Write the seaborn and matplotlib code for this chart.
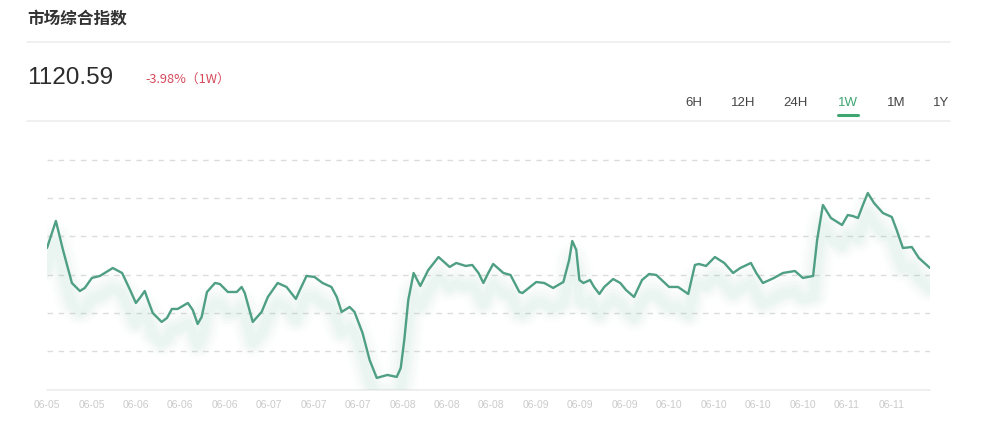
import matplotlib
matplotlib.use("Agg")
import matplotlib.pyplot as plt
import matplotlib.patheffects as pe
from matplotlib.lines import Line2D
import seaborn as sns
import pandas as pd

# ---------------- data ----------------
tick_labels = ["06-05", "06-05", "06-06", "06-06", "06-06", "06-07", "06-07", "06-07",
               "06-08", "06-08", "06-08", "06-09", "06-09", "06-09", "06-10", "06-10",
               "06-10", "06-10", "06-11", "06-11"]

t = [0.00, 0.20, 0.36, 0.56, 0.74, 0.85, 1.01, 1.19, 1.48, 1.69, 1.87, 2.00, 2.09, 2.20,
     2.27, 2.38, 2.58, 2.70, 2.81, 2.94, 3.17, 3.28, 3.39, 3.48, 3.60, 3.78, 3.89, 4.07,
     4.27, 4.38, 4.45, 4.63, 4.83, 4.97, 5.19, 5.39, 5.60, 5.69, 5.84, 6.02, 6.20, 6.40,
     6.52, 6.63, 6.81, 6.92, 7.10, 7.26, 7.42, 7.66, 7.87, 7.96, 8.04, 8.13, 8.25, 8.40,
     8.58, 8.81, 9.06, 9.21, 9.42, 9.57, 9.71, 9.82, 9.93, 10.04, 10.27, 10.43, 10.63,
     10.70, 11.01, 11.19, 11.39, 11.62, 11.75, 11.82, 11.91, 11.98, 12.07, 12.22, 12.31,
     12.43, 12.54, 12.74, 12.90, 13.03, 13.21, 13.39, 13.55, 13.71, 14.00, 14.20, 14.43,
     14.58, 14.67, 14.83, 15.03, 15.24, 15.44, 15.60, 15.84, 15.96, 16.11, 16.36, 16.56,
     16.83, 17.01, 17.24, 17.33, 17.46, 17.64, 17.89, 18.02, 18.13, 18.25, 18.36, 18.47,
     18.61, 18.81, 19.01, 19.12, 19.26, 19.46, 19.62, 19.87]

index_value = [1134.8, 1170.2, 1132.2, 1089.0, 1078.5, 1082.5, 1095.6, 1098.2, 1108.6,
               1102.1, 1079.8, 1062.8, 1069.4, 1078.5, 1066.8, 1049.7, 1038.0, 1043.2,
               1055.0, 1055.0, 1062.8, 1053.7, 1035.3, 1044.5, 1077.2, 1089.0, 1087.7,
               1077.2, 1077.2, 1083.8, 1075.9, 1038.0, 1051.1, 1070.7, 1089.0, 1083.8,
               1068.1, 1079.8, 1098.2, 1096.9, 1089.0, 1083.8, 1070.7, 1051.1, 1057.6,
               1051.1, 1023.6, 988.2, 964.7, 968.6, 966.0, 977.7, 1014.4, 1066.8, 1102.1,
               1085.1, 1106.0, 1123.0, 1110.0, 1115.2, 1111.3, 1112.6, 1102.1, 1089.0,
               1102.1, 1113.9, 1102.1, 1099.5, 1077.2, 1075.9, 1090.3, 1089.0, 1082.5,
               1090.3, 1119.1, 1144.0, 1132.2, 1092.9, 1089.0, 1092.9, 1083.8, 1074.6,
               1083.8, 1094.2, 1089.0, 1079.8, 1070.7, 1092.9, 1100.8, 1099.5, 1083.8,
               1083.8, 1074.6, 1112.6, 1113.9, 1111.3, 1123.0, 1115.2, 1102.1, 1108.6,
               1115.2, 1102.1, 1089.0, 1095.6, 1102.1, 1104.7, 1095.6, 1098.2, 1145.3,
               1191.1, 1174.1, 1164.9, 1178.0, 1176.7, 1174.1, 1191.1, 1206.8, 1193.7,
               1180.6, 1175.4, 1158.4, 1134.8, 1136.1, 1121.7, 1108.6]

grid_values = [1000, 1050, 1100, 1150, 1200, 1250]
period_buttons = ["6H", "12H", "24H", "1W", "1M", "1Y"]
active_period = "1W"
title_text = "市场综合指数"
last_price = "1120.59"
change_text = "-3.98%（1W）"

df = pd.DataFrame({"t": t, "value": index_value})

# ---------------- style ----------------
sns.set_theme(style="white")
plt.rcParams["font.family"] = ["Noto Sans CJK SC", "DejaVu Sans"]

W, H = 1000, 441
fig = plt.figure(figsize=(W / 100, H / 100), dpi=100)
fig.patch.set_facecolor("white")


def fx(x):
    return x / W


def fy(y):
    return 1 - y / H


LINE = "#4f9f83"
GREEN = "#3fa672"

ax = fig.add_axes([fx(47), fy(390), fx(930) - fx(47), fy(150) - fy(390)])
ax.set_facecolor("white")

shadow = []
for o, a, lw in [(13, 0.018, 24), (13.5, 0.022, 19), (14, 0.026, 14), (14.5, 0.03, 10),
                 (15, 0.034, 6)]:
    shadow.append(pe.SimpleLineShadow(offset=(0, -o), shadow_color="#6fbf9f", alpha=a,
                                      rho=1.0, linewidth=lw))
shadow.append(pe.Normal())

sns.lineplot(data=df, x="t", y="value", ax=ax, color=LINE, linewidth=1.7,
             path_effects=shadow, solid_joinstyle="round", solid_capstyle="round")

ax.set_xlim(0, 19.87)
ax.set_ylim(948.9, 1263.1)
for g in grid_values:
    ax.axhline(g, color="#dcdcdc", linewidth=1.0, linestyle=(0, (4, 4)), zorder=0)
ax.axhline(948.9, color="#ececec", linewidth=1.2, zorder=0, clip_on=False)

for s in ax.spines.values():
    s.set_visible(False)
ax.set_yticks([])
ax.set_xticks(range(len(tick_labels)))
ax.set_xticklabels(tick_labels, fontsize=7.5, color="#cbcbcb",
                   family=["Liberation Sans", "DejaVu Sans"])
ax.tick_params(axis="x", length=0, pad=7)
ax.set_xlabel("")
ax.set_ylabel("")

# ---------------- header ----------------
fig.text(fx(27), fy(18), title_text, fontsize=12, color="#333333",
         fontweight="bold", va="center", ha="left")
fig.add_artist(Line2D([fx(27), fx(950)], [fy(42), fy(42)], color="#eeeeee", linewidth=1.2))
fig.text(fx(27), fy(78), last_price, fontsize=17.5, color="#2c2c2c",
         va="center", ha="left", family=["Liberation Sans", "DejaVu Sans"])
fig.text(fx(145), fy(80), change_text, fontsize=9.2, color="#d6485a",
         va="center", ha="left")

button_x = [694, 743, 796, 848, 896, 941]
for lab, bx in zip(period_buttons, button_x):
    col = GREEN if lab == active_period else "#444444"
    fig.text(fx(bx), fy(103), lab, fontsize=9.5, color=col, va="center", ha="center",
             family=["Liberation Sans", "DejaVu Sans"])
    if lab == active_period:
        fig.add_artist(Line2D([fx(bx - 10), fx(bx + 10)], [fy(115), fy(115)],
                              color=GREEN, linewidth=2.2, solid_capstyle="round"))
fig.add_artist(Line2D([fx(27), fx(950)], [fy(121), fy(121)], color="#eeeeee", linewidth=1.2))

fig.savefig("out.png", dpi=100, facecolor="white")
